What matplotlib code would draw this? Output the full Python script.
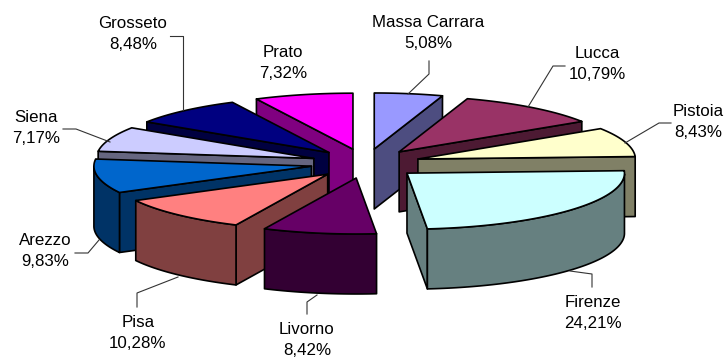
import numpy as np
import matplotlib
matplotlib.use("Agg")
import matplotlib.pyplot as plt

plt.rcParams['font.family'] = ['Liberation Sans', 'DejaVu Sans']

# Data, clockwise from 12 o'clock
names = ["Massa Carrara", "Lucca", "Pistoia", "Firenze", "Livorno",
         "Pisa", "Arezzo", "Siena", "Grosseto", "Prato"]
values = [5.08, 10.79, 8.43, 24.21, 8.42, 10.28, 9.83, 7.17, 8.48, 7.32]
top_colors = ["#9999FF", "#993366", "#FFFFCC", "#CCFFFF", "#660066",
              "#FF8080", "#0066CC", "#CCCCFF", "#000080", "#FF00FF"]
side_colors = ["#4D4D80", "#4D1A33", "#808066", "#668080", "#330033",
               "#804040", "#003366", "#666680", "#000040", "#800080"]

# Layout of the pie, in pixels
cx, cy = 365.5, 163.5
rx, ry = 217.5, 56
explode_x, explode_y = 55, 14.7
depth = 60
draw_order = [0, 9, 8, 1, 7, 2, 6, 5, 4, 3]

# Label centres and leader lines, in pixels
label_pos = [(428, 33), (597, 64), (698, 122), (593, 313), (307, 340),
             (138, 333), (45, 251), (36, 128), (133, 34), (283, 63)]
leaders = [
    [(429, 61), (429, 74), (408, 94)],
    [(565, 66), (553, 66), (528, 107)],
    [(671, 123), (659, 123), (625, 143)],
    [(592, 287), (592, 274), (570, 271)],
    [(307, 314), (307, 302), (317, 295)],
    [(137, 307), (137, 293), (178, 277)],
    [(75, 253), (88, 253), (99, 240)],
    [(63, 129), (76, 129), (110, 142)],
    [(170, 36), (183, 36), (183, 110)],
]

fig = plt.figure(figsize=(7.26, 3.58), dpi=100)
ax = fig.add_axes([0, 0, 1, 1])
ax.set_xlim(0, 726)
ax.set_ylim(358, 0)
ax.axis("off")

edges = np.cumsum([0] + values) / np.sum(values) * 2 * np.pi


def extrude(xs, ys, color):
    px = np.concatenate([xs, xs[::-1]])
    py = np.concatenate([ys, ys[::-1] + depth])
    ax.fill(px, py, facecolor=color, edgecolor="black", lw=1.2, joinstyle="round")


for i in draw_order:
    t0, t1 = edges[i], edges[i + 1]
    mid = (t0 + t1) / 2
    ax0 = cx + explode_x * np.sin(mid)
    ay0 = cy - explode_y * np.cos(mid)
    t = np.linspace(t0, t1, 80)
    ax_arc = ax0 + rx * np.sin(t)
    ay_arc = ay0 - ry * np.cos(t)

    # side faces: only the ones running leftwards in a clockwise walk face the viewer
    if ax_arc[0] < ax0:
        extrude(np.array([ax0, ax_arc[0]]), np.array([ay0, ay_arc[0]]), side_colors[i])
    if ax_arc[-1] > ax0:
        extrude(np.array([ax_arc[-1], ax0]), np.array([ay_arc[-1], ay0]), side_colors[i])
    front = np.cos(t) < 0
    if front.any():
        extrude(ax_arc[front], ay_arc[front], side_colors[i])

    ax.fill(np.r_[ax0, ax_arc], np.r_[ay0, ay_arc], facecolor=top_colors[i],
            edgecolor="black", lw=1.2, joinstyle="round")

for line in leaders:
    xs, ys = zip(*line)
    ax.plot(xs, ys, color="#333333", lw=0.8)

for name, v, (x, y) in zip(names, values, label_pos):
    label = f"{v:.2f}%".replace(".", ",")
    ax.text(x, y, f"{name}\n{label}", ha="center", va="center", fontsize=12.2,
            color="black", linespacing=1.55)

fig.savefig("out.png", dpi=100)
